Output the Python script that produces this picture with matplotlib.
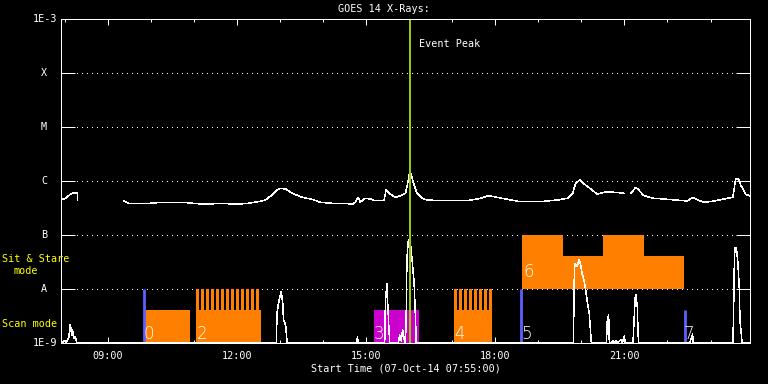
import numpy as np
import matplotlib
matplotlib.use("Agg")
import matplotlib.pyplot as plt
from matplotlib.ticker import FixedLocator, NullFormatter

# ---------------- data ----------------
TITLE = "GOES 14 X-Rays:"
XLABEL = "Start Time (07-Oct-14 07:55:00)"
X_START, X_END = "07:55", "23:55"
XTICK_MAJOR = ["09:00", "12:00", "15:00", "18:00", "21:00"]
XTICK_MINOR = ["08:00", "10:00", "11:00", "13:00", "14:00", "16:00", "17:00",
               "19:00", "20:00", "22:00", "23:00"]
YTICK_VALUES = [1e-9, 1e-8, 1e-7, 1e-6, 1e-5, 1e-4, 1e-3]
YTICK_LABELS = ["1E-9", "A", "B", "C", "M", "X", "1E-3"]
GRID_LEVELS = [1e-8, 1e-7, 1e-6, 1e-5, 1e-4]

# GOES long channel (1-8 A)
LONG_TIME = ["07:55", "08:01", "08:08", "08:12", "08:18", "08:18", "08:19",
             "09:22", "09:29", "09:38", "09:59", "10:15", "10:43", "11:14", "11:39",
             "11:58", "12:16", "12:30", "12:40", "12:49", "12:56", "13:01", "13:08",
             "13:17", "13:31", "13:45", "13:56", "14:13", "14:31", "14:41", "14:45",
             "14:49", "14:52", "14:59", "15:06", "15:13", "15:25", "15:28", "15:34",
             "15:41", "15:48", "15:55", "15:58", "16:01", "16:03", "16:07", "16:11",
             "16:18", "16:25", "16:48", "17:21", "17:40", "17:50", "17:58", "18:17",
             "18:35", "19:03", "19:27", "19:41", "19:48", "19:52", "19:58", "20:03",
             "20:13", "20:22", "20:36", "20:46", "21:00", "21:04", "21:09", "21:16",
             "21:20", "21:27", "21:41", "22:00", "22:28", "22:35", "22:42", "22:51",
             "23:05", "23:19", "23:31", "23:33", "23:35", "23:39", "23:42", "23:49",
             "23:55"]
LONG_FLUX_E7 = [4.45, 4.79, 5.67, 6.0, 6.0, 4.45, np.nan,
                4.26, 3.86, 3.86, 3.86, 4.04, 4.04, 3.71, 3.86,
                3.71, 3.86, 4.14, 4.45, 5.51, 6.81, 7.33, 7.11,
                5.92, 4.99, 4.58, 4.04, 3.86, 3.86, 3.71, 4.0,
                4.99, 4.04, 4.79, 4.64, 4.31, 4.31, 6.81, 5.67,
                4.99, 5.35, 5.92, 9.05, 14.9, 12.9, 8.43, 5.92,
                4.79, 4.45, 4.31, 4.31, 4.79, 5.35, 5.12, 4.58,
                4.14, 4.14, 4.45, 4.79, 5.92, 9.05, 10.5, 9.05,
                7.11, 5.74, 6.34, 6.18, 5.92, np.nan, 5.92, 7.64,
                6.81, 5.35, 4.79, 4.58, 4.26, 4.99, 4.45, 4.04,
                4.26, 4.64, 4.99, 7.33, 10.9, 10.9, 8.43, 5.67,
                5.28]

# GOES short channel (0.5-4 A)
SHORT_TIME = ["07:55", "08:00", "08:02", "08:06", "08:08", "08:10", "08:11", "08:13",
              "08:15", "08:17",
              "12:55", "12:56", "12:58", "13:01", "13:02", "13:04", "13:05", "13:08", "13:10",
              "14:47", "14:48", "14:49",
              "15:26", "15:27", "15:29", "15:30", "15:32", "15:33",
              "15:45", "15:47", "15:49", "15:51", "15:53", "15:55", "15:56", "15:57",
              "15:59", "16:02", "16:04", "16:07", "16:09", "16:10",
              "19:49", "19:50", "19:51", "19:54", "19:57", "19:59", "20:01", "20:04",
              "20:06", "20:08", "20:11", "20:13", "20:14",
              "20:35", "20:36", "20:38", "20:39", "20:42", "20:44", "20:46", "20:48",
              "20:50", "20:55", "20:57", "21:00", "21:01",
              "21:12", "21:13", "21:15", "21:16", "21:18", "21:19", "21:20",
              "22:31", "22:33", "22:35", "22:36",
              "23:31", "23:32", "23:33", "23:34", "23:36", "23:38", "23:40", "23:41",
              "23:43", "23:44", "23:55"]
SHORT_FLUX_E9 = [1.0, 1.1, 1.0, 1.3, 2.22, 1.4, 1.74, 1.2,
                 1.3, 1.0,
                 1.0, 3.55, 5.43, 8.32, 8.91, 5.43, 2.67, 2.15, 1.0,
                 1.0, 1.3, 1.0,
                 1.0, 5.82, 12.4, 6.25, 1.74, 1.0,
                 1.0, 1.4, 1.1, 1.74, 1.2, 1.0, 3.6, 37.5,
                 80.8, 68.0, 37.5, 12.9, 2.67, 1.0,
                 1.0, 13.7, 29.9, 25.9, 34.4, 27.8, 19.5, 13.7,
                 9.58, 6.26, 3.55, 1.51, 1.0,
                 1.0, 2.48, 3.4, 1.0, 1.0, 1.12, 1.0, 1.1,
                 1.0, 1.15, 1.0, 1.35, 1.0,
                 1.0, 2.0, 6.73, 7.74, 4.7, 1.51, 1.0,
                 1.0, 1.2, 1.47, 1.0,
                 1.0, 2.67, 22.5, 59.2, 56.7, 32.0, 11.0, 2.67,
                 1.41, 1.0, 1.0]

# observation blocks
SCAN_START = ["09:52", "11:03", "15:11", "17:02"]
SCAN_END = ["10:55", "12:34", "16:14", "17:56"]
SCAN_KIND = ["orange", "orange", "magenta", "orange"]
SCAN_TOP = 4.1e-9
COMB_TEETH = ["11:03", "11:10", "11:17", "11:24", "11:31", "11:38", "11:45", "11:52",
              "11:59", "12:06", "12:13", "12:20", "12:27",
              "17:02", "17:09", "17:16", "17:23", "17:30", "17:37", "17:44", "17:51"]
COMB_TOOTH_MIN = 4.3
COMB_TOP = 1e-8
SS_START = ["18:38", "19:35", "20:30", "21:27"]
SS_END = ["19:35", "20:30", "21:27", "22:23"]
SS_TOP = [1e-7, 4.1e-8, 1e-7, 4.1e-8]
SS_BASE = 1e-8
MARK_TIME = ["09:51", "18:36", "22:24"]
MARK_TOP = [1e-8, 1e-8, 4.1e-9]
LABEL_TEXT = ["0", "2", "3", "4", "5", "6", "7"]
LABEL_TIME = ["09:50", "11:04", "15:11", "17:03", "18:36", "18:39", "22:23"]
LABEL_BAND = ["scan", "scan", "scan", "scan", "scan", "sit", "scan"]
PEAK_TIME = "16:01"
PEAK_TEXT = "Event Peak"


def hours(s):
    h, m = s.split(":")
    return int(h) + int(m) / 60.0


# ---------------- style ----------------
W = "white"
COLORS = {"orange": "#ff8000", "magenta": "#cc00cc"}
BLUE = "#5f5fff"
GREEN = "#99cc00"
YELLOW = "#ffff00"
PX = 72.0 / 100.0  # points per pixel at dpi 100
MONO = "DejaVu Sans Mono"
FS = 7.3

fig = plt.figure(figsize=(7.68, 3.84), dpi=100, facecolor="black")
ax = fig.add_axes([61 / 768, 41 / 384, 689 / 768, 324 / 384])
ax.set_facecolor("black")
ax.set_yscale("log")
ax.set_xlim(hours(X_START), hours(X_END))
ax.set_ylim(YTICK_VALUES[0], YTICK_VALUES[-1])

# dotted grid
for lev in GRID_LEVELS:
    ax.axhline(lev, color=W, lw=PX, linestyle=(4, (1, 5)), zorder=1, antialiased=False)

# scan blocks
for s, e, k in zip(SCAN_START, SCAN_END, SCAN_KIND):
    ax.bar(hours(s), SCAN_TOP - YTICK_VALUES[0], width=hours(e) - hours(s),
           bottom=YTICK_VALUES[0], align="edge", color=COLORS[k], linewidth=0, zorder=2)
# comb teeth
for t in COMB_TEETH:
    ax.bar(hours(t), COMB_TOP - SCAN_TOP, width=COMB_TOOTH_MIN / 60.0, bottom=SCAN_TOP,
           align="edge", color=COLORS["orange"], linewidth=0, zorder=2)
# sit & stare block
for s, e, top in zip(SS_START, SS_END, SS_TOP):
    ax.bar(hours(s), top - SS_BASE, width=hours(e) - hours(s), bottom=SS_BASE,
           align="edge", color=COLORS["orange"], linewidth=0, zorder=2)
# pointing markers
ax.vlines([hours(t) for t in MARK_TIME], YTICK_VALUES[0], MARK_TOP, colors=BLUE,
          lw=2.8 * PX, zorder=3)

# GOES curves
ax.plot([hours(t) for t in LONG_TIME], np.array(LONG_FLUX_E7) * 1e-7, color=W,
        lw=0.5 * PX, zorder=4, antialiased=False)
ax.plot([hours(t) for t in SHORT_TIME], np.array(SHORT_FLUX_E9) * 1e-9, color=W,
        lw=0.5 * PX, zorder=4, antialiased=False)

# block labels
for txt, t, band in zip(LABEL_TEXT, LABEL_TIME, LABEL_BAND):
    yv = 1.47e-9 if band == "scan" else 2.07e-8
    ax.text(hours(t), yv, txt, color=W, fontsize=12, fontweight="light",
            ha="left", va="center", zorder=5)

# event peak
ax.axvline(hours(PEAK_TIME), color=GREEN, lw=2.0 * PX, zorder=6)
ax.annotate(PEAK_TEXT, xy=(hours(PEAK_TIME), 0.923), xycoords=("data", "axes fraction"),
            xytext=(9 * PX, 0), textcoords="offset points", color=W, fontsize=FS,
            family=MONO, ha="left", va="center")

# spines & ticks
for sp in ax.spines.values():
    sp.set_color(W)
    sp.set_linewidth(1.0 * PX)
    sp.set_zorder(7)

ax.xaxis.set_major_locator(FixedLocator([hours(t) for t in XTICK_MAJOR]))
ax.xaxis.set_minor_locator(FixedLocator([hours(t) for t in XTICK_MINOR]))
ax.set_xticklabels(XTICK_MAJOR)
ax.xaxis.set_minor_formatter(NullFormatter())
ax.tick_params(axis="x", which="major", direction="in", length=6 * PX, width=PX,
               top=True, bottom=True, colors=W, labelsize=FS, pad=8 * PX)
ax.tick_params(axis="x", which="minor", direction="in", length=3 * PX, width=PX,
               top=True, bottom=True, colors=W)
for lbl in ax.get_xticklabels():
    lbl.set_family(MONO)

ax.yaxis.set_major_locator(FixedLocator(YTICK_VALUES))
ax.yaxis.set_minor_locator(FixedLocator([]))
ax.tick_params(axis="y", which="major", direction="in", length=14 * PX, width=PX,
               left=True, right=True, labelleft=False, colors=W)
for v, lab in zip(YTICK_VALUES, YTICK_LABELS):
    pad = 4 if len(lab) > 1 else 14
    ax.annotate(lab, xy=(0, v), xycoords=("axes fraction", "data"),
                xytext=(-pad * PX, 0), textcoords="offset points", color=W,
                fontsize=FS, family=MONO, ha="right", va="center", annotation_clip=False)

ax.set_xlabel(XLABEL, color=W, fontsize=FS, family=MONO, labelpad=2)
fig.text(0.5, 1 - 9 / 384, TITLE, color=W, fontsize=FS, family=MONO,
         ha="center", va="center")

# mode labels
fig.text(2 / 768, 1 - 259 / 384, "Sit & Stare", color=YELLOW, fontsize=FS, family=MONO,
         ha="left", va="center")
fig.text(13 / 768, 1 - 271 / 384, "mode", color=YELLOW, fontsize=FS, family=MONO,
         ha="left", va="center")
fig.text(2 / 768, 1 - 324 / 384, "Scan mode", color=YELLOW, fontsize=FS, family=MONO,
         ha="left", va="center")

fig.savefig("out.png", dpi=100, facecolor="black")
